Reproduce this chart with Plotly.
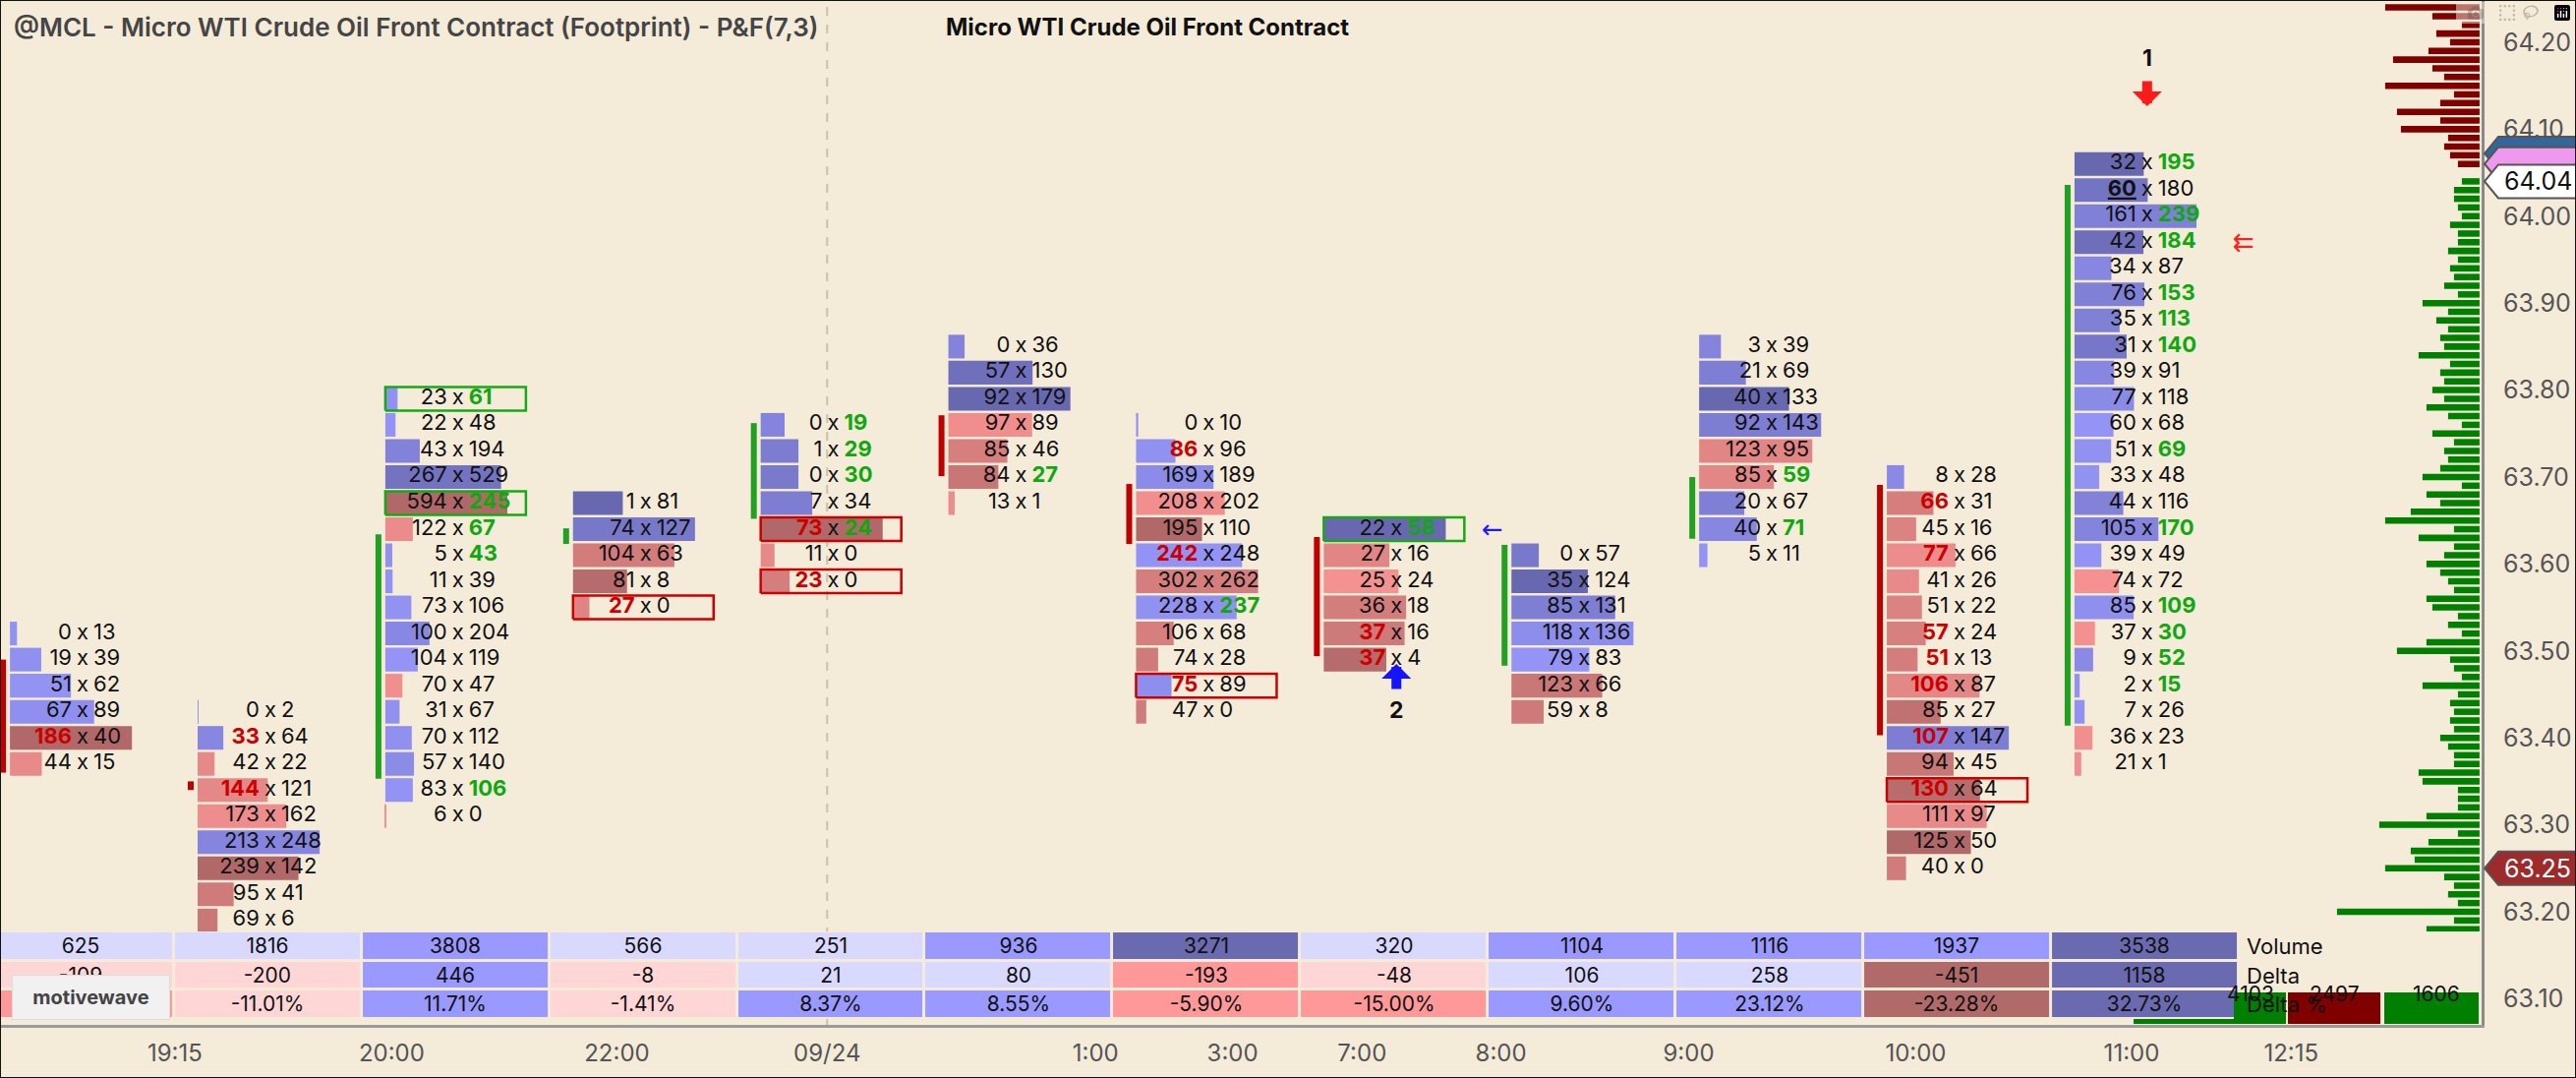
import plotly.graph_objects as go

# ---------------- data ----------------
col_top_price = [63.52, 63.43, 63.79, 63.67, 63.76, 63.85, 63.76, 63.64, 63.61, 63.85, 63.70, 64.06]
ROW_SIZE = 0.03

bid_c01 = [0, 19, 51, 67, 186, 44]
ask_c01 = [13, 39, 62, 89, 40, 15]
bid_c02 = [0, 33, 42, 144, 173, 213, 239, 95, 69]
ask_c02 = [2, 64, 22, 121, 162, 248, 142, 41, 6]
bid_c03 = [23, 22, 43, 267, 594, 122, 5, 11, 73, 100, 104, 70, 31, 70, 57, 83, 6]
ask_c03 = [61, 48, 194, 529, 245, 67, 43, 39, 106, 204, 119, 47, 67, 112, 140, 106, 0]
bid_c04 = [1, 74, 104, 81, 27]
ask_c04 = [81, 127, 63, 8, 0]
bid_c05 = [0, 1, 0, 7, 73, 11, 23]
ask_c05 = [19, 29, 30, 34, 24, 0, 0]
bid_c06 = [0, 57, 92, 97, 85, 84, 13]
ask_c06 = [36, 130, 179, 89, 46, 27, 1]
bid_c07 = [0, 86, 169, 208, 195, 242, 302, 228, 106, 74, 75, 47]
ask_c07 = [10, 96, 189, 202, 110, 248, 262, 237, 68, 28, 89, 0]
bid_c08 = [22, 27, 25, 36, 37, 37]
ask_c08 = [58, 16, 24, 18, 16, 4]
bid_c09 = [0, 35, 85, 118, 79, 123, 59]
ask_c09 = [57, 124, 131, 136, 83, 66, 8]
bid_c10 = [3, 21, 40, 92, 123, 85, 20, 40, 5]
ask_c10 = [39, 69, 133, 143, 95, 59, 67, 71, 11]
bid_c11 = [8, 66, 45, 77, 41, 51, 57, 51, 106, 85, 107, 94, 130, 111, 125, 40]
ask_c11 = [28, 31, 16, 66, 26, 22, 24, 13, 87, 27, 147, 45, 64, 97, 50, 0]
bid_c12 = [32, 60, 161, 42, 34, 76, 35, 31, 39, 77, 60, 51, 33, 44, 105, 39, 74, 85, 37, 9, 2, 7, 36, 21]
ask_c12 = [195, 180, 239, 184, 87, 153, 113, 140, 91, 118, 68, 69, 48, 116, 170, 49, 72, 109, 30, 52, 15, 26, 23, 1]

bid_cols = [bid_c01, bid_c02, bid_c03, bid_c04, bid_c05, bid_c06, bid_c07, bid_c08, bid_c09, bid_c10, bid_c11, bid_c12]
ask_cols = [ask_c01, ask_c02, ask_c03, ask_c04, ask_c05, ask_c06, ask_c07, ask_c08, ask_c09, ask_c10, ask_c11, ask_c12]
IMB_RATIO = 2.0

# value-area style zones (price range per column) and direction
zone_top = [63.49, 63.35, 63.634, 63.641, 63.762, 63.771, 63.692, 63.631, 63.622, 63.700, 63.691, 64.036]
zone_bot = [63.36, 63.34, 63.353, 63.623, 63.652, 63.701, 63.623, 63.494, 63.483, 63.629, 63.403, 63.414]
zone_up = [False, False, True, True, True, False, False, False, True, True, False, True]

# outlined cells (column index, row index, green?)
box_col = [2, 2, 7, 3, 4, 4, 6, 10]
box_row = [0, 4, 0, 4, 4, 6, 10, 12]
box_green = [True, True, True, False, False, False, False, False]

# highlighted bid value (column, row)
underline_col = [11]
underline_row = [1]

# events
event_label = ["1", "2"]
event_col = [11, 7]
event_price = [64.1265, 63.485]
event_down = [True, False]
signal_col = [7, 11]
signal_price = [63.64, 63.97]
signal_text = ["←", "⇇"]
signal_color = ["#1a1aff", "#ff2020"]

# time axis
tick_pos = [0.505, 1.66, 2.86, 3.98, 5.41, 6.14, 6.83, 7.57, 8.57, 9.78, 10.93, 11.78]
tick_text = ["19:15", "20:00", "22:00", "09/24", "1:00", "3:00", "7:00", "8:00", "9:00", "10:00", "11:00", "12:15"]
day_break = 3.98
price_ticks = [63.1, 63.2, 63.3, 63.4, 63.5, 63.6, 63.7, 63.8, 63.9, 64.0, 64.1, 64.2]

# depth of market profile (right side)
dom_ask_top = 64.24
dom_ask_sizes = [96, 48, 18, 44, 30, 52, 88, 48, 36, 96, 26, 40, 84, 40, 80, 32, 36, 30, 22]
dom_bid_top = 64.04
dom_bid_sizes = [18, 26, 26, 22, 18, 30, 22, 22, 32, 22,
                 30, 26, 36, 22, 58, 32, 44, 32, 40, 36,
                 62, 30, 40, 36, 48, 36, 54, 32, 18, 48,
                 26, 36, 32, 40, 58, 18, 54, 40, 70, 96,
                 26, 62, 26, 36, 54, 40, 32, 26, 54, 48,
                 22, 32, 18, 54, 84, 30, 26, 18, 58, 22,
                 30, 26, 30, 26, 40, 32, 26, 26, 62, 58,
                 22, 22, 22, 54, 102, 22, 52, 70, 66, 96,
                 36, 26, 32, 22, 145, 26, 54, 26, 54, 54,
                 30, 26, 48, 32]
dom_ask_total = 2497
dom_bid_total = 1606

last_price = 64.04
high_price = 64.06
mark_price = 64.072
low_tag_price = 63.25

# table shading levels (style): 0 lavender,1 blue,2 dark blue,3 pink,4 red,5 dark red
vol_shade = [0, 0, 1, 0, 0, 1, 2, 0, 1, 1, 1, 2]
delta_shade = [3, 3, 1, 3, 0, 0, 4, 3, 0, 0, 5, 2]
pct_shade = [4, 3, 1, 3, 1, 1, 4, 4, 1, 1, 5, 2]

# ---------------- style / geometry ----------------
BG = "#f4ebd9"
FONT = "Inter"
PLOT_W = 2524
PLOT_H = 1042
PX = 1 / 190.9                      # one pixel in column units
BAR_LEFT = -0.374
BAR_MAX = 0.65
TEXT_X = 0.013
ZONE_X = BAR_LEFT - 7 * PX
BOX_W = 143 * PX
DOM_RIGHT = 12.784
XR = [-0.427, 12.795]
YR = [63.0699, 64.2486]
FP_SIZE = 22

LB, DB = (150, 150, 250), (104, 104, 176)
LR, DR = (246, 146, 146), (176, 104, 104)


def mix(a, b, t):
    return "rgb(%d,%d,%d)" % tuple(round(a[j] + (b[j] - a[j]) * t) for j in range(3))


fig = go.Figure()

bar_y, bar_len, bar_base, bar_col = [], [], [], []
bx, by, bt, bc = [], [], [], []
ax_, ay_, at, ac = [], [], [], []
mx_, my_ = [], []
for i, (bids, asks) in enumerate(zip(bid_cols, ask_cols)):
    tot = [b + a for b, a in zip(bids, asks)]
    dl = [a - b for b, a in zip(bids, asks)]
    mt = max(tot)
    md = max(abs(d) for d in dl) or 1
    n = len(bids)
    for k in range(n):
        p = round(col_top_price[i] - k * ROW_SIZE, 2)
        t = abs(dl[k]) / md
        bar_y.append(p)
        bar_len.append(tot[k] / mt * BAR_MAX)
        bar_base.append(i + BAR_LEFT)
        bar_col.append(mix(LR, DR, t) if dl[k] < 0 else mix(LB, DB, t))
        b, a = bids[k], asks[k]
        bid_imb = k > 0 and b > 0 and b >= IMB_RATIO * asks[k - 1]
        ask_imb = k < n - 1 and a > 0 and a >= IMB_RATIO * bids[k + 1]
        s = str(b)
        col = "#111111"
        if bid_imb:
            s = "<b>%s</b>" % s
            col = "#cc0000"
        for uc, ur in zip(underline_col, underline_row):
            if uc == i and ur == k:
                s = '<b><span style="text-decoration:underline">%s</span></b>' % b
        bx.append(i + TEXT_X - 11 * PX); by.append(p); bt.append(s); bc.append(col)
        s = str(a)
        col = "#111111"
        if ask_imb:
            s = "<b>%s</b>" % s
            col = "#0fa80f"
        ax_.append(i + TEXT_X + 11 * PX); ay_.append(p); at.append(s); ac.append(col)
        mx_.append(i + TEXT_X); my_.append(p)

fig.add_trace(go.Bar(orientation="h", y=bar_y, x=bar_len, base=bar_base, width=0.0272,
                     marker=dict(color=bar_col, line=dict(width=0)), hoverinfo="skip"))

# DOM profile
dom_y = [round(dom_ask_top - k * 0.01, 2) for k in range(len(dom_ask_sizes))]
fig.add_trace(go.Bar(orientation="h", y=dom_y, x=[v * PX for v in dom_ask_sizes],
                     base=[DOM_RIGHT - v * PX for v in dom_ask_sizes], width=0.0074,
                     marker=dict(color="#800000", line=dict(width=0)), hoverinfo="skip"))
dom_y = [round(dom_bid_top - k * 0.01, 2) for k in range(len(dom_bid_sizes))]
fig.add_trace(go.Bar(orientation="h", y=dom_y, x=[v * PX for v in dom_bid_sizes],
                     base=[DOM_RIGHT - v * PX for v in dom_bid_sizes], width=0.0074,
                     marker=dict(color="#008000", line=dict(width=0)), hoverinfo="skip"))

# zones
for up, colr in [(True, "#22a022"), (False, "#c00000")]:
    zx, zy = [], []
    for i in range(len(zone_top)):
        if zone_up[i] == up:
            zx += [i + ZONE_X, i + ZONE_X, None]
            zy += [zone_top[i], zone_bot[i], None]
    fig.add_trace(go.Scatter(x=zx, y=zy, mode="lines", line=dict(color=colr, width=6),
                             hoverinfo="skip"))

# outlined cells
for g, colr in [(True, "#14aa14"), (False, "#cc0000")]:
    rx, ry = [], []
    for c, r, gg in zip(box_col, box_row, box_green):
        if gg != g:
            continue
        p = col_top_price[c] - r * ROW_SIZE
        x0, x1 = c + BAR_LEFT, c + BAR_LEFT + BOX_W
        y0, y1 = p - 0.0136, p + 0.0136
        rx += [x0, x1, x1, x0, x0, None]
        ry += [y0, y0, y1, y1, y0, None]
    fig.add_trace(go.Scatter(x=rx, y=ry, mode="lines", line=dict(color=colr, width=2.5),
                             hoverinfo="skip"))

fig.add_trace(go.Scatter(x=bx, y=by, text=bt, mode="text", textposition="middle left",
                         textfont=dict(family=FONT, size=FP_SIZE, color=bc), hoverinfo="skip"))
fig.add_trace(go.Scatter(x=mx_, y=my_, text=["x"] * len(mx_), mode="text",
                         textposition="middle center",
                         textfont=dict(family=FONT, size=FP_SIZE, color="#111111"), hoverinfo="skip"))
fig.add_trace(go.Scatter(x=ax_, y=ay_, text=at, mode="text", textposition="middle right",
                         textfont=dict(family=FONT, size=FP_SIZE, color=ac), hoverinfo="skip"))

# bottom table (heatmap on its own y axis)
vol = [sum(b) + sum(a) for b, a in zip(bid_cols, ask_cols)]
dlt = [sum(a) - sum(b) for b, a in zip(bid_cols, ask_cols)]
pct = [d / v * 100 for d, v in zip(dlt, vol)]
shade_colors = ["#d9d9ff", "#9999ff", "#6a6ab0", "#ffd6d6", "#ff9999", "#b06a6a"]
cs = []
for j, c in enumerate(shade_colors):
    cs += [[j / 6, c], [(j + 1) / 6, c]]
fig.add_trace(go.Heatmap(
    x=list(range(len(vol))), y=[0, 1, 2],
    z=[pct_shade, delta_shade, vol_shade],
    text=[["%.2f%%" % p for p in pct], [str(d) for d in dlt], [str(v) for v in vol]],
    texttemplate="%{text}", textfont=dict(family=FONT, size=21, color="#111111"),
    colorscale=cs, zmin=-0.5, zmax=5.5, showscale=False, xgap=3, ygap=3,
    xaxis="x", yaxis="y2", hoverinfo="skip"))

ann = []


def ppx(v):
    return v / PLOT_W


def pyy(v):
    return (PLOT_H - v) / PLOT_H


shapes = []
# DOM totals boxes (the first one partly hidden under the table)
for x0, x1, colr in [(2272, 2325, "#008000"), (2327, 2421, "#800000"), (2425, 2521, "#008000")]:
    shapes.append(dict(type="rect", x0=ppx(x0), x1=ppx(x1), y0=pyy(1041), y1=pyy(1009),
                       xref="paper", yref="paper", fillcolor=colr, line=dict(width=0), layer="above"))
shapes.append(dict(type="rect", x0=ppx(2170), x1=ppx(2325), y0=pyy(1041), y1=pyy(1036),
                   xref="paper", yref="paper", fillcolor="#008000", line=dict(width=0), layer="above"))
for cx, anchor, txt in [(2263, "left", str(dom_ask_total + dom_bid_total)),
                        (2374, "center", str(dom_ask_total)),
                        (2478, "center", str(dom_bid_total))]:
    ann.append(dict(x=ppx(cx), y=pyy(1025), xref="paper", yref="paper", xanchor=anchor,
                    text=txt, showarrow=False, font=dict(family=FONT, size=21, color="#111")))

for lab, yy in [("Volume", 2), ("Delta", 1), ("Delta %", 0)]:
    ann.append(dict(x=11.5 + 6 * PX, y=yy, xref="x", yref="y2", text=lab, showarrow=False,
                    xanchor="left", yanchor="middle", font=dict(family=FONT, size=22, color="#111")))

# event arrows and labels
for lab, c, p, dn in zip(event_label, event_col, event_price, event_down):
    colr = "#ff1a1a" if dn else "#1414ff"
    ann.append(dict(x=c + TEXT_X, y=p, xref="x", yref="y", text="", showarrow=True,
                    ax=0, ay=-27 if dn else 27, arrowhead=1, arrowwidth=10, arrowsize=0.5,
                    arrowcolor=colr))
    ann.append(dict(x=c + TEXT_X, y=p + (0.055 if dn else -0.053), xref="x", yref="y",
                    text="<b>%s</b>" % lab, showarrow=False,
                    font=dict(family=FONT, size=23, color="#111")))
for c, p, t, colr in zip(signal_col, signal_price, signal_text, signal_color):
    ann.append(dict(x=c + TEXT_X + 98 * PX, y=p, xref="x", yref="y", text=t, showarrow=False,
                    font=dict(family="DejaVu Sans", size=26, color=colr)))

# titles
ann.append(dict(x=12 / PLOT_W, y=1 - 28 / PLOT_H, xref="paper", yref="paper", xanchor="left",
                yanchor="middle", showarrow=False,
                text="@MCL - Micro WTI Crude Oil Front Contract (Footprint) - P&F(7,3)",
                font=dict(family=FONT, size=26, color="#454545", weight=600)))
ann.append(dict(x=1167 / PLOT_W, y=1 - 28 / PLOT_H, xref="paper", yref="paper", xanchor="center",
                yanchor="middle", showarrow=False, text="Micro WTI Crude Oil Front Contract",
                font=dict(family=FONT, size=24, color="#111", weight=700)))
# logo
ann.append(dict(x=12 / PLOT_W, y=(PLOT_H - 1014) / PLOT_H, xref="paper", yref="paper",
                xanchor="left", yanchor="middle", showarrow=False, text="<b>motivewave</b>",
                width=157, height=42, bgcolor="#f1f1f1", bordercolor="#dcdcdc", borderwidth=1,
                font=dict(family=FONT, size=20, color="#444")))

# day separator
shapes.append(dict(type="line", x0=day_break, x1=day_break, y0=0, y1=1, xref="x", yref="paper",
                   line=dict(color="#c9c0b0", width=2, dash="dash"), layer="below"))

# price tags on the right axis
H = 0.0385


def tag(p, fill, line):
    xt, xb, xr = ppx(2527), ppx(2541), ppx(2622)
    return dict(type="path", xref="paper", yref="y",
                path="M %f,%f L %f,%f L %f,%f L %f,%f L %f,%f Z" % (
                    xt, p, xb, p + H / 2, xr, p + H / 2, xr, p - H / 2, xb, p - H / 2),
                fillcolor=fill, line=dict(color=line, width=2), layer="above")


shapes.append(tag(mark_price, "#336699", "#555555"))
shapes.append(tag(high_price, "#ee99ee", "#555555"))
shapes.append(tag(last_price, "#ffffff", "#555555"))
shapes.append(tag(low_tag_price, "#9e2b2b", "#555555"))
ann.append(dict(x=ppx(2545), y=last_price, xref="paper", yref="y", xanchor="left", text="%.2f" % last_price,
                showarrow=False, font=dict(family=FONT, size=25, color="#111")))
ann.append(dict(x=ppx(2545), y=low_tag_price, xref="paper", yref="y", xanchor="left",
                text="%.2f" % low_tag_price, showarrow=False, font=dict(family=FONT, size=25, color="#ffffff")))

# outer frame
shapes.append(dict(type="rect", xref="paper", yref="paper", x0=0, x1=2620 / PLOT_W,
                   y0=-54 / PLOT_H, y1=1, line=dict(color="#111", width=2), layer="above"))

fig.update_layout(
    width=2620, height=1096, margin=dict(l=0, r=96, t=0, b=54, pad=0),
    paper_bgcolor=BG, plot_bgcolor=BG, showlegend=False, barmode="overlay", hovermode=False,
    xaxis=dict(range=XR, tickvals=tick_pos, ticktext=tick_text, showgrid=False, zeroline=False,
               showline=True, linecolor="#9a9a9a", linewidth=3, ticks="",
               tickfont=dict(family=FONT, size=24, color="#555"), ticklabelstandoff=5,
               fixedrange=True),
    yaxis=dict(range=YR, side="right", tickvals=price_ticks, tickformat=".2f", showgrid=False,
               zeroline=False, showline=True, linecolor="#8a8a8a", linewidth=3, ticks="",
               tickfont=dict(family=FONT, size=25, color="#555"), ticklabelstandoff=14,
               fixedrange=True),
    yaxis2=dict(domain=[6 / PLOT_H, 95 / PLOT_H], range=[-0.5, 2.5], anchor="x", visible=False,
                fixedrange=True),
    annotations=ann, shapes=shapes,
)

fig.write_html("out.html", post_script="document.body.style.margin='0';document.body.style.overflow='hidden';")
